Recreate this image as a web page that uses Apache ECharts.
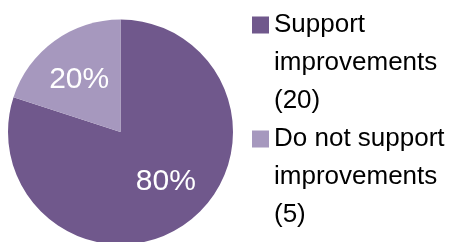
<!DOCTYPE html>
<html>
<head>
<meta charset="utf-8">
<script src="https://cdn.jsdelivr.net/npm/echarts@6/dist/echarts.min.js"></script>
<style>
    html, body { margin: 0; padding: 0; background: #fff; }
    #chart { width: 453px; height: 242px; }
</style>
</head>
<body>
<div id="chart"></div>
<script>
const categories = ['Support\nimprovements', 'Do not support\nimprovements']
const counts = [20, 5]
const colors = ['#70588c', '#a698be']

const font = '"Liberation Sans", Arial, sans-serif'
const legendNames = categories.map((c, i) => `${c}\n(${counts[i]})`)
// small nudges so the % labels sit where Excel put them
const labelOffsets = [[4, -7], [0, 5]]

const chart = echarts.init(document.getElementById('chart'))
chart.setOption({
    animation: false,
    legend: {
        orient: 'vertical',
        left: 252,
        top: 6,
        padding: 0,
        itemWidth: 17,
        itemHeight: 114,
        itemGap: 0,
        // square sits at the first text line, the rest of the path only stretches the box
        icon: 'path://M0,0L0.001,0Z M0,10.5L17,10.5L17,27.5L0,27.5Z M0,114L0.001,114Z',
        itemStyle: { borderWidth: 0 },
        textStyle: {
            fontFamily: font,
            fontSize: 26,
            lineHeight: 38,
            color: '#000'
        },
        data: legendNames
    },
    series: [
        {
            type: 'pie',
            center: [120.5, 132],
            radius: 112.5,
            startAngle: 90,
            clockwise: true,
            silent: true,
            label: { show: false },
            labelLine: { show: false },
            itemStyle: { borderWidth: 0 },
            data: legendNames.map((name, i) => ({ name, value: counts[i], itemStyle: { color: colors[i] } }))
        },
        {
            // transparent copy, only used to put the % labels a bit further out
            type: 'pie',
            center: [120.5, 132],
            radius: [22, 112.5],
            startAngle: 90,
            clockwise: true,
            silent: true,
            itemStyle: { color: 'rgba(0,0,0,0)', borderWidth: 0 },
            label: {
                position: 'inside',
                formatter: '{d}%',
                color: '#fff',
                fontFamily: font,
                fontSize: 30
            },
            labelLine: { show: false },
            data: counts.map((v, i) => ({ name: 'pct' + i, value: v, label: { offset: labelOffsets[i] } }))
        }
    ]
})
</script>
</body>
</html>
